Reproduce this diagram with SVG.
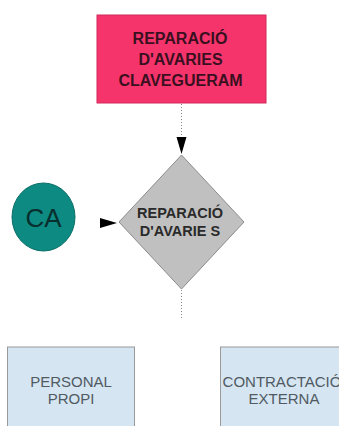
<svg xmlns="http://www.w3.org/2000/svg" width="339" height="426" viewBox="0 0 339 426">
  <style>
    .lbl { font-family: "Liberation Sans", Arial, sans-serif; text-anchor: middle; }
    .bold { font-weight: bold; }
    .conn { stroke: #8a8a8a; stroke-width: 1; stroke-dasharray: 1 2; fill: none; }
    .head { fill: #000; }
    .box { fill: #d5e5f2; stroke: #9a9a9a; stroke-width: 1; }
  </style>
  <rect width="339" height="426" fill="#ffffff"/>

  <!-- connectors -->
  <g id="connectors">
    <line class="conn" x1="181.5" y1="104" x2="181.5" y2="137"/>
    <polygon class="head" points="176.5,137 186.5,137 181.5,154"/>
    <polygon class="head" points="100,218 100,228 117,223"/>
    <line class="conn" x1="181.5" y1="290" x2="181.5" y2="318"/>
  </g>

  <!-- process: sewer fault repair -->
  <g id="node-reparacio-clavegueram">
    <rect x="97" y="15" width="169" height="88" fill="#f6346c" stroke="#d0285a" stroke-width="1"/>
    <text class="lbl bold" x="180" y="43.5" font-size="16" fill="#3a1020">REPARACIÓ</text>
    <text class="lbl bold" x="180.5" y="64.5" font-size="16" fill="#3a1020">D'AVARIES</text>
    <text class="lbl bold" x="180.5" y="85.5" font-size="16" fill="#3a1020">CLAVEGUERAM</text>
  </g>

  <!-- decision -->
  <g id="node-reparacio-avaries">
    <polygon points="181.5,155 244,222 181.5,289 119,222" fill="#c0c0c0" stroke="#8c8c8c" stroke-width="1"/>
    <text class="lbl bold" x="180" y="218" font-size="14.5" fill="#2a2a2a">REPARACIÓ</text>
    <text class="lbl bold" x="180" y="235.5" font-size="14.5" fill="#2a2a2a">D'AVARIE S</text>
  </g>

  <!-- connector CA -->
  <g id="node-ca">
    <ellipse cx="43.5" cy="217" rx="31.5" ry="34" fill="#0d8a82" stroke="#0a6e68" stroke-width="1"/>
    <text class="lbl" x="43.5" y="227" font-size="26" fill="#082e2e">CA</text>
  </g>

  <!-- own staff -->
  <g id="node-personal-propi">
    <rect class="box" x="7.5" y="347" width="127" height="90"/>
    <text class="lbl" x="71" y="387" font-size="15" fill="#505a62">PERSONAL</text>
    <text class="lbl" x="71" y="403.5" font-size="15" fill="#505a62">PROPI</text>
  </g>

  <!-- external contracting -->
  <g id="node-contractacio-externa">
    <rect class="box" x="220.5" y="347" width="130" height="90"/>
    <text class="lbl" x="282" y="387" font-size="15" fill="#505a62">CONTRACTACIÓ</text>
    <text class="lbl" x="284" y="403.5" font-size="15" fill="#505a62">EXTERNA</text>
  </g>
</svg>
